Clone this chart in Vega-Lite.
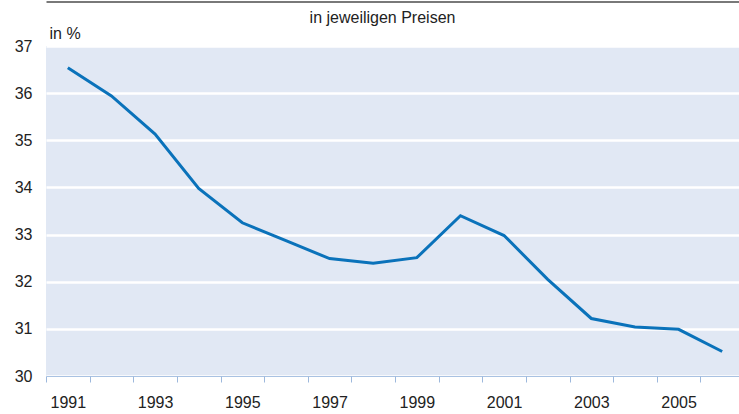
{
  "$schema": "https://vega.github.io/schema/vega-lite/v6.json",
  "width": 698,
  "height": 330,
  "autosize": "none",
  "padding": {"left": 46, "top": 46, "right": 0, "bottom": 38},
  "background": "white",
  "config": {
    "font": "Liberation Sans",
    "view": {"fill": "#e1e8f4", "stroke": null}
  },
  "data": {
    "values": [
      {"year": 1991, "value": 36.54},
      {"year": 1992, "value": 35.94},
      {"year": 1993, "value": 35.13},
      {"year": 1994, "value": 33.98},
      {"year": 1995, "value": 33.25},
      {"year": 1996, "value": 32.87},
      {"year": 1997, "value": 32.49},
      {"year": 1998, "value": 32.39},
      {"year": 1999, "value": 32.51},
      {"year": 2000, "value": 33.40},
      {"year": 2001, "value": 32.98},
      {"year": 2002, "value": 32.05},
      {"year": 2003, "value": 31.22},
      {"year": 2004, "value": 31.04},
      {"year": 2005, "value": 30.99},
      {"year": 2006, "value": 30.52}
    ]
  },
  "resolve": {"axis": {"x": "independent"}},
  "layer": [
    {
      "mark": {"type": "line", "color": "#0a72ba", "strokeWidth": 3, "strokeJoin": "miter"},
      "encoding": {
        "x": {
          "field": "year",
          "type": "quantitative",
          "scale": {"domain": [1990.5, 2006.5], "nice": false, "zero": false},
          "axis": {
            "orient": "bottom",
            "title": null,
            "values": [1991, 1993, 1995, 1997, 1999, 2001, 2003, 2005],
            "format": "d",
            "labelAngle": 0,
            "labelOverlap": false,
            "labelFlush": false,
            "labelFontSize": 16,
            "labelColor": "#222222",
            "labelPadding": 12,
            "tickSize": 6,
            "tickOpacity": 0,
            "domainColor": "#a9c2e2",
            "domainWidth": 1,
            "grid": false
          }
        },
        "y": {
          "field": "value",
          "type": "quantitative",
          "scale": {"domain": [30, 37], "nice": false, "zero": false},
          "axis": {
            "values": [30, 31, 32, 33, 34, 35, 36, 37],
            "title": "in %",
            "titleAngle": 0,
            "titleAlign": "left",
            "titleBaseline": "alphabetic",
            "titleX": 3,
            "titleY": -8,
            "titleFontSize": 16,
            "titleFontWeight": "normal",
            "titleColor": "#222222",
            "labelFontSize": 16,
            "labelColor": "#222222",
            "labelPadding": 14,
            "ticks": false,
            "domain": false,
            "grid": true,
            "gridColor": "white",
            "gridWidth": 2.5,
            "gridOpacity": 1
          }
        }
      }
    },
    {
      "mark": {"type": "point", "opacity": 0},
      "encoding": {
        "x": {
          "field": "year",
          "type": "quantitative",
          "axis": {
            "orient": "bottom",
            "title": null,
            "values": [1990.5, 1991.5, 1992.5, 1993.5, 1994.5, 1995.5, 1996.5, 1997.5, 1998.5, 1999.5, 2000.5, 2001.5, 2002.5, 2003.5, 2004.5, 2005.5],
            "labels": false,
            "domain": false,
            "grid": false,
            "ticks": true,
            "tickSize": 6,
            "tickColor": "#9db8dc",
            "tickWidth": 1
          }
        },
        "y": {"field": "value", "type": "quantitative"}
      }
    },
    {
      "mark": {"type": "point", "opacity": 0},
      "encoding": {
        "x": {
          "field": "year",
          "type": "quantitative",
          "axis": {
            "orient": "top",
            "offset": 44.5,
            "labels": false,
            "ticks": false,
            "grid": false,
            "domainColor": "#4d4d4d",
            "domainWidth": 1.5,
            "title": "in jeweiligen Preisen",
            "titleFontSize": 16,
            "titleFontWeight": "normal",
            "titleColor": "#222222",
            "titleBaseline": "alphabetic",
            "titleX": 336,
            "titleY": 20.5
          }
        },
        "y": {"field": "value", "type": "quantitative"}
      }
    }
  ]
}
